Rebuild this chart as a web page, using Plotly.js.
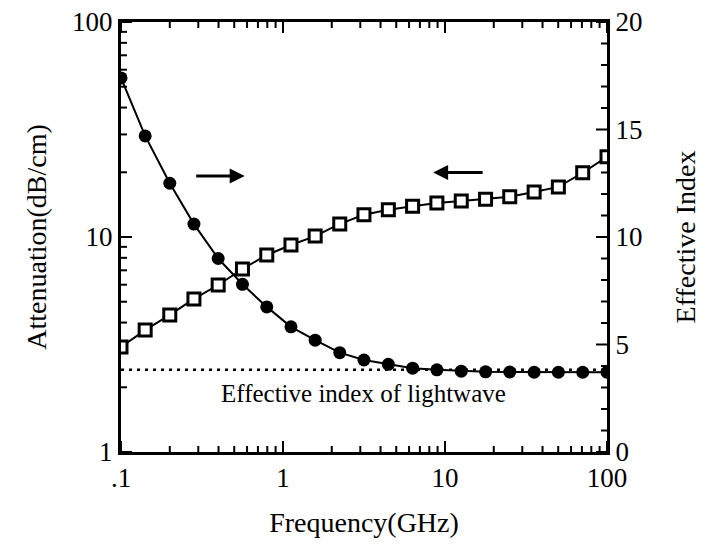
<!DOCTYPE html>
<html>
<head>
<meta charset="utf-8">
<script src="https://cdn.plot.ly/plotly-3.0.1.min.js"></script>
<style>html,body{margin:0;padding:0;background:#fff;}#chart{width:714px;height:555px;}</style>
</head>
<body>
<div id="chart"></div>
<script>
// Frequency (GHz)
var freq = [0.1, 0.141, 0.2, 0.282, 0.398, 0.562, 0.794, 1.12, 1.58, 2.24, 3.16, 4.47, 6.31, 8.91, 12.6, 17.8, 25.1, 35.5, 50.1, 70.8, 100];
// Attenuation (dB/cm), left log axis, open squares
var attenuation = [3.08, 3.69, 4.34, 5.15, 5.98, 7.10, 8.25, 9.18, 10.1, 11.5, 12.7, 13.4, 13.9, 14.4, 14.7, 15.0, 15.4, 16.2, 17.1, 19.9, 23.6];
// Effective index, right linear axis, filled circles
var effIndex = [17.4, 14.7, 12.5, 10.6, 9.0, 7.8, 6.75, 5.82, 5.2, 4.62, 4.28, 4.08, 3.9, 3.82, 3.76, 3.73, 3.72, 3.71, 3.71, 3.71, 3.71];
// Effective index of lightwave (dotted reference line)
var lightX = [0.1, 100];
var lightIndex = [3.82, 3.82];

// Tick positions (axis values)
var xMajor = [0.1, 1, 10, 100];
var xMinor = [0.2, 0.3, 0.4, 0.5, 0.6, 0.7, 0.8, 0.9, 2, 3, 4, 5, 6, 7, 8, 9, 20, 30, 40, 50, 60, 70, 80, 90];
var yMajor = [1, 10, 100];
var yMinor = [2, 3, 4, 5, 6, 7, 8, 9, 20, 30, 40, 50, 60, 70, 80, 90];
var y2Major = [0, 5, 10, 15, 20];
var y2Minor = [1, 2, 3, 4, 6, 7, 8, 9, 11, 12, 13, 14, 16, 17, 18, 19];
// Tick label text overrides
var xTickAlias = {'0.1': '.1'};

var serif = 'Liberation Serif, Times New Roman, serif';

var W = 714, H = 555, M = {l: 121, r: 107, t: 22, b: 103};
var XR = [-1, 2], YR = [0, 2], Y2R = [0, 20];
var plotW = W - M.l - M.r, plotH = H - M.t - M.b;
var MAJ = 11, MIN = 6;

// Inside tick marks built from the tick arrays and the axis ranges
function tickTraceX(majors, minors) {
  var xs = [], ys = [];
  function add(v, len) {
    var d = len / plotH * (YR[1] - YR[0]);
    xs.push(v, v, null, v, v, null);
    ys.push(Math.pow(10, YR[0]), Math.pow(10, YR[0] + d), null,
            Math.pow(10, YR[1]), Math.pow(10, YR[1] - d), null);
  }
  majors.forEach(function (v) { add(v, MAJ); });
  minors.forEach(function (v) { add(v, MIN); });
  return {x: xs, y: ys, yaxis: 'y', mode: 'lines', type: 'scatter', connectgaps: false,
          line: {color: '#000', width: 2}, hoverinfo: 'skip', showlegend: false, cliponaxis: false};
}
function tickTraceY(majors, minors) {
  var xs = [], ys = [];
  function add(v, len) {
    var d = len / plotW * (XR[1] - XR[0]);
    xs.push(Math.pow(10, XR[0]), Math.pow(10, XR[0] + d), null);
    ys.push(v, v, null);
  }
  majors.forEach(function (v) { add(v, MAJ); });
  minors.forEach(function (v) { add(v, MIN); });
  return {x: xs, y: ys, yaxis: 'y', mode: 'lines', type: 'scatter', connectgaps: false,
          line: {color: '#000', width: 2}, hoverinfo: 'skip', showlegend: false, cliponaxis: false};
}
function tickTraceY2(majors, minors) {
  var xs = [], ys = [];
  function add(v, len) {
    var d = len / plotW * (XR[1] - XR[0]);
    xs.push(Math.pow(10, XR[1]), Math.pow(10, XR[1] - d), null);
    ys.push(v, v, null);
  }
  majors.forEach(function (v) { add(v, MAJ); });
  minors.forEach(function (v) { add(v, MIN); });
  return {x: xs, y: ys, yaxis: 'y2', mode: 'lines', type: 'scatter', connectgaps: false,
          line: {color: '#000', width: 2}, hoverinfo: 'skip', showlegend: false, cliponaxis: false};
}

var traces = [
  tickTraceX(xMajor, xMinor),
  tickTraceY(yMajor, yMinor),
  tickTraceY2(y2Major, y2Minor),
  {x: lightX, y: lightIndex, yaxis: 'y2', mode: 'lines', type: 'scatter',
   line: {color: '#000', width: 2.5, dash: '3px,5px'}, hoverinfo: 'skip', showlegend: false},
  {x: freq, y: attenuation, yaxis: 'y', mode: 'lines+markers', type: 'scatter', name: 'Attenuation',
   line: {color: '#000', width: 2},
   marker: {symbol: 'square', size: 12, color: '#fff', line: {color: '#000', width: 3}}, showlegend: false},
  {x: freq, y: effIndex, yaxis: 'y2', mode: 'lines+markers', type: 'scatter', name: 'Effective Index',
   line: {color: '#000', width: 2},
   marker: {symbol: 'circle', size: 13, color: '#000'}, showlegend: false}
];

var layout = {
  width: W, height: H,
  margin: M,
  paper_bgcolor: '#fff', plot_bgcolor: '#fff',
  font: {family: serif, color: '#000', size: 26},
  showlegend: false,
  xaxis: {
    type: 'log', range: XR, dtick: 1, automargin: false,
    labelalias: xTickAlias,
    ticks: '', showline: true, linewidth: 3, linecolor: '#000', mirror: true,
    showgrid: false, zeroline: false,
    tickfont: {size: 27, family: serif},
    title: {text: 'Frequency(GHz)', font: {size: 28, family: serif}, standoff: 20}
  },
  yaxis: {
    type: 'log', range: YR, dtick: 1, automargin: false,
    ticks: '', showline: true, linewidth: 3, linecolor: '#000', mirror: true,
    showgrid: false, zeroline: false,
    tickfont: {size: 27, family: serif},
    title: {text: 'Attenuation(dB/cm)', font: {size: 28, family: serif}, standoff: 18}
  },
  yaxis2: {
    overlaying: 'y', side: 'right', range: Y2R, tick0: 0, dtick: 5, automargin: false,
    ticks: '', showline: true, linewidth: 3, linecolor: '#000',
    showgrid: false, zeroline: false,
    tickfont: {size: 27, family: serif},
    title: {text: 'Effective Index', font: {size: 28, family: serif}, standoff: 34}
  },
  annotations: [
    {x: Math.log10(3.12), y: 2.74, xref: 'x', yref: 'y2', text: 'Effective index of lightwave',
     showarrow: false, font: {size: 25, family: serif, color: '#000'}},
    {x: Math.log10(0.58), y: 12.84, xref: 'x', yref: 'y2', text: '', showarrow: true,
     ax: -50, ay: 0, arrowhead: 2, arrowsize: 1, arrowwidth: 3, arrowcolor: '#000'},
    {x: Math.log10(8.45), y: 13.0, xref: 'x', yref: 'y2', text: '', showarrow: true,
     ax: 51, ay: 0, arrowhead: 2, arrowsize: 1, arrowwidth: 3, arrowcolor: '#000'}
  ]
};

Plotly.newPlot('chart', traces, layout, {displayModeBar: false, staticPlot: true});
</script>
</body>
</html>
